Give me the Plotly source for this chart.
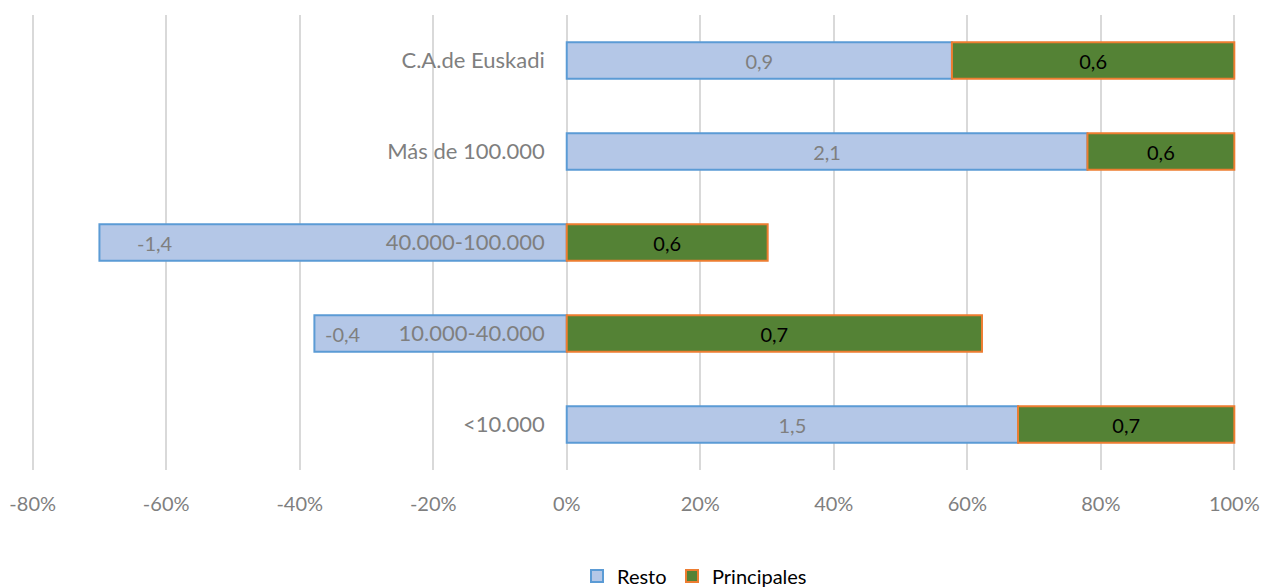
import plotly.graph_objects as go

categories = ["C.A.de Euskadi", "Más de 100.000", "40.000-100.000", "10.000-40.000", "<10.000"]
resto_val = [0.9, 2.1, -1.4, -0.4, 1.5]
princ_val = [0.6, 0.6, 0.6, 0.7, 0.7]
# shares (% of stacked bar)
resto_share = [57.7, 78.0, -70.0, -37.8, 67.6]
princ_share = [42.3, 22.0, 30.1, 62.2, 32.4]
x_ticks = [-80, -60, -40, -20, 0, 20, 40, 60, 80, 100]

FONT = "Lato"
GRAY = "#7f7f7f"
X_MIN, X_MAX = -81, 101

def fmt(v):
    return f"{v:.1f}".replace(".", ",")

fig = go.Figure()
fig.add_trace(go.Bar(
    name="Resto", y=categories, x=resto_share, orientation="h",
    marker=dict(color="#b4c7e7", line=dict(color="#5b9bd5", width=2)),
    text=[fmt(v) if v > 0 else "" for v in resto_val],
    textposition="inside", insidetextanchor="middle",
    textfont=dict(family=FONT, size=20, color=GRAY),
    hoverinfo="skip", legend="legend",
))
fig.add_trace(go.Bar(
    name="Principales", y=categories, x=princ_share, orientation="h",
    marker=dict(color="#548235", line=dict(color="#ed7d31", width=2)),
    text=[fmt(v) for v in princ_val],
    textposition="inside", insidetextanchor="middle",
    textfont=dict(family=FONT, size=20, color="#000000"),
    hoverinfo="skip", legend="legend2",
))

# labels of negative Resto segments, near their left end
shifts = iter([36, 9])
for cat, share, val in zip(categories, resto_share, resto_val):
    if val < 0:
        fig.add_annotation(x=share, y=cat, text=fmt(val), showarrow=False,
                           xanchor="left", xshift=next(shifts),
                           font=dict(family=FONT, size=20, color=GRAY))

legend_common = dict(orientation="h", xanchor="left", y=-0.233, yanchor="middle",
                     font=dict(family=FONT, size=20, color="#000000"), itemwidth=30,
                     bgcolor="rgba(0,0,0,0)")
fig.update_layout(
    barmode="relative", bargap=0.6,
    width=1262, height=587,
    margin=dict(l=26, r=21, t=15, b=117, autoexpand=False),
    paper_bgcolor="white", plot_bgcolor="white",
    font=dict(family=FONT, size=20, color=GRAY),
    showlegend=True,
    legend=dict(x=0.4535, **legend_common),
    legend2=dict(x=0.5317, **legend_common),
)
fig.update_xaxes(
    range=[X_MIN, X_MAX], tickvals=x_ticks, ticktext=[f"{t}%" for t in x_ticks],
    showgrid=True, gridcolor="#d9d9d9", gridwidth=1.5,
    zeroline=False, showline=False, ticks="",
    tickfont=dict(family=FONT, size=20, color=GRAY),
    ticklabelstandoff=20, automargin=False,
)
fig.update_yaxes(
    categoryorder="array", categoryarray=categories[::-1],
    anchor="free", position=(0 - X_MIN) / (X_MAX - X_MIN),
    showgrid=False, zeroline=False, showline=False, ticks="",
    ticklabelstandoff=22, automargin=False,
    tickfont=dict(family=FONT, size=22, color=GRAY),
)

fig.write_html("out.html", config={"displayModeBar": False},
               post_script="document.body.style.margin='0';document.body.style.overflow='hidden';")
